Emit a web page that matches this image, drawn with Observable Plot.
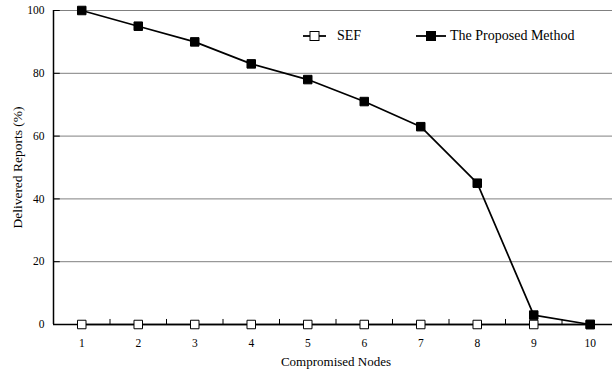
<!DOCTYPE html>
<html>
<head>
<meta charset="utf-8">
<script src="https://cdn.jsdelivr.net/npm/d3@7"></script>
<script src="https://cdn.jsdelivr.net/npm/@observablehq/plot@0.6"></script>
<style>
  html, body { margin: 0; padding: 0; background: #fff; }
  #wrap { position: relative; width: 612px; height: 372px; overflow: hidden; font-family: "Liberation Serif", "Times New Roman", serif; }
  #legend { position: absolute; left: 303px; top: 28px; font-size: 14px; color: #000; font-family: "Liberation Serif", serif; }
  .item { display: flex; align-items: center; position: absolute; top: 0; white-space: nowrap; }
  .item svg { display: block; }
</style>
</head>
<body>
<div id="wrap"></div>
<script>
const nodes = [1, 2, 3, 4, 5, 6, 7, 8, 9, 10];
const sefValues = [0, 0, 0, 0, 0, 0, 0, 0, 0, 0];
const proposedValues = [100, 95, 90, 83, 78, 71, 63, 45, 3, 0];
const yTicks = [0, 20, 40, 60, 80, 100];
const seriesNames = ["SEF", "The Proposed Method"];

const serif = '"Liberation Serif", "Times New Roman", serif';
const sef = nodes.map((n, i) => ({node: n, value: sefValues[i]}));
const proposed = nodes.map((n, i) => ({node: n, value: proposedValues[i]}));
const boundaries = nodes.slice(0, -1).map(n => n + 0.5);

const chart = Plot.plot({
  width: 612,
  height: 372,
  marginLeft: 53,
  marginRight: -6,
  marginTop: 10,
  marginBottom: 48,
  style: {fontFamily: serif, fontSize: "11px", color: "#000", background: "#fff"},
  x: {domain: [0.5, 10.5], axis: null},
  y: {domain: [0, 100], axis: null},
  marks: [
    Plot.ruleY(yTicks.filter(d => d > 0), {stroke: "#808080", strokeWidth: 1}),
    Plot.ruleY(yTicks, {y: d => d, x1: 0.5, x2: 0.62, stroke: "#000", strokeWidth: 1}),
    Plot.text(yTicks, {x: 0.5, y: d => d, text: d => String(d), dx: -9, textAnchor: "end", fontSize: 11.5, fontFamily: serif}),
    Plot.ruleX([0.5], {stroke: "#000", strokeWidth: 1.5}),
    Plot.ruleY([0], {stroke: "#000", strokeWidth: 1.5}),
    Plot.ruleX(boundaries, {x: d => d, y1: 0, y2: 1.6, stroke: "#000", strokeWidth: 1}),
    Plot.text(nodes, {x: d => d, y: 0, text: d => String(d), dy: 19, fontSize: 11.5, fontFamily: serif}),
    Plot.text(["Compromised Nodes"], {x: 5.5, y: 0, text: d => d, dy: 37, fontSize: 13, fontFamily: serif}),
    Plot.text(["Delivered Reports (%)"], {x: 0.5, y: 50, text: d => d, dx: -36, rotate: -90, fontSize: 13.5, fontFamily: serif}),
    Plot.line(sef, {x: "node", y: "value", stroke: "#000", strokeWidth: 1.7}),
    Plot.line(proposed, {x: "node", y: "value", stroke: "#000", strokeWidth: 1.7}),
    Plot.dot(sef, {x: "node", y: "value", symbol: "square", r: 4.8, fill: "#fff", stroke: "#000", strokeWidth: 1}),
    Plot.dot(proposed, {x: "node", y: "value", symbol: "square", r: 4.8, fill: "#000", stroke: "#000", strokeWidth: 1})
  ]
});

const wrap = document.getElementById("wrap");
wrap.appendChild(chart);

const legend = document.createElement("div");
legend.id = "legend";
function item(name, fill, left, w, textGap) {
  const el = document.createElement("div");
  el.className = "item";
  el.style.left = left + "px";
  const sq = w / 2 - 4.5;
  el.innerHTML = `<svg width="${w}" height="16"><line x1="0" y1="8" x2="${w}" y2="8" stroke="#000" stroke-width="1.8"/><rect x="${sq}" y="3.5" width="9" height="9" fill="${fill}" stroke="#000" stroke-width="1"/></svg><span style="margin-left:${textGap}px">${name}</span>`;
  return el;
}
legend.appendChild(item(seriesNames[0], "#fff", 0, 23, 11));
legend.appendChild(item(seriesNames[1], "#000", 113, 30, 4));
wrap.appendChild(legend);
</script>
</body>
</html>
